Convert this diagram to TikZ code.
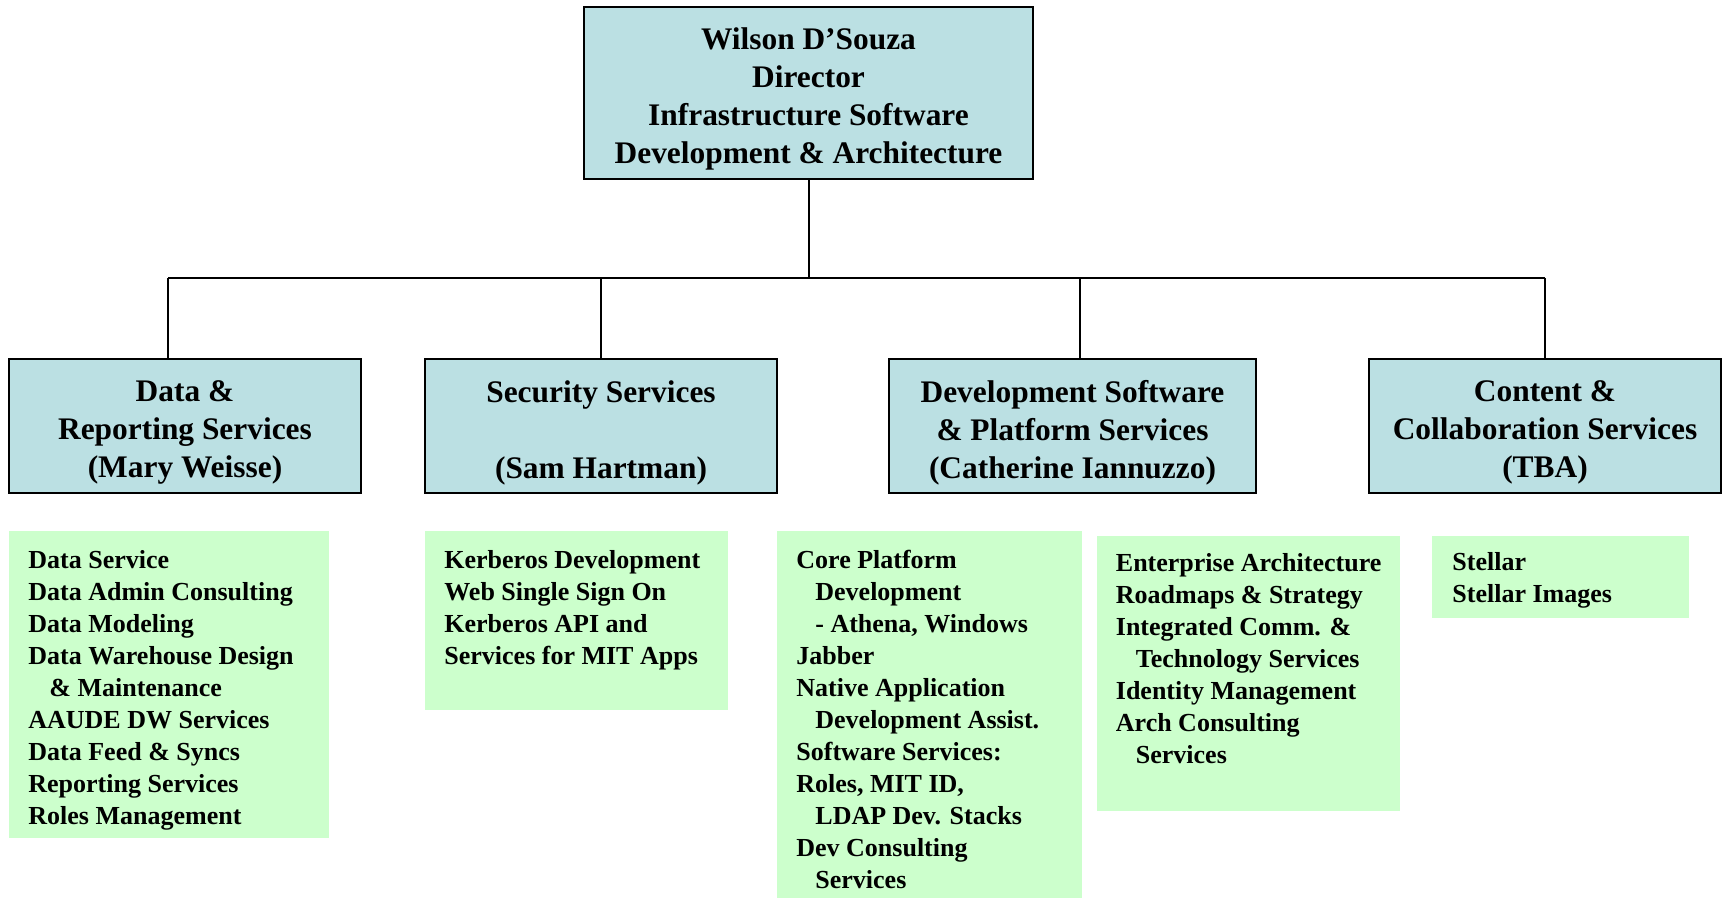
\documentclass[tikz,border=0pt]{standalone}
\usepackage{fontspec}
\setmainfont{Liberation Serif}
\definecolor{hblue}{RGB}{187,224,227}
\definecolor{lgreen}{RGB}{204,255,204}
\begin{document}
\begin{tikzpicture}[x=0.5pt,y=-0.5pt,
  hbox/.style={draw=black, line width=1pt, fill=hblue, inner sep=0pt},
  htext/.style={align=center, inner sep=0pt,
    font=\fontsize{15.7}{19}\selectfont\bfseries},
  gbox/.style={fill=lgreen, draw=none, inner sep=0pt},
  gtext/.style={anchor=base west, align=left, inner sep=0pt,
    font=\fontsize{13}{16}\selectfont\bfseries},
  conn/.style={line width=1pt, draw=black}]
\useasboundingbox (0,0) rectangle (1725,898);
% top
\node[hbox, minimum width=224.5pt, minimum height=86pt] (top) at (808.5,93) {};
\node[htext] (toptext) at ([yshift=-2.8pt]top.center)
  {Wilson D'Souza\\Director\\Infrastructure Software\\Development \& Architecture};
% level 2
\node[hbox, minimum width=176pt, minimum height=67pt] (b1) at (185,426) {};
\node[hbox, minimum width=176pt, minimum height=67pt] (b2) at (601,426) {};
\node[hbox, minimum width=183.5pt, minimum height=67pt] (b3) at (1072.5,426) {};
\node[hbox, minimum width=176pt, minimum height=67pt] (b4) at (1545,426) {};
\node[htext] (l1) at ([yshift=-3.3pt]b1.center) {Data \&\\Reporting Services\\(Mary Weisse)};
\node[htext] (l2) at ([yshift=-3.3pt]b2.center) {Security Services\\\mbox{}\\(Sam Hartman)};
\node[htext] (l3) at ([yshift=-3.3pt]b3.center) {Development Software\\\& Platform Services\\(Catherine Iannuzzo)};
\node[htext] (l4) at ([yshift=-3.3pt]b4.center) {Content \&\\Collaboration Services\\(TBA)};
% connectors
\coordinate (bar) at (808.5,278);
\coordinate (j1) at (168,278);
\coordinate (j2) at (601,278);
\coordinate (j3) at (1080,278);
\coordinate (j4) at (1545,278);
\draw[conn] (top.south) -- (top.south |- bar);
\draw[conn] (j1) -- (j4);
\draw[conn] (j1) -- (j1 |- b1.north);
\draw[conn] (j2) -- (j2 |- b2.north);
\draw[conn] (j3) -- (j3 |- b3.north);
\draw[conn] (j4) -- (j4 |- b4.north);
% green boxes
\node[gbox, minimum width=160pt, minimum height=153.5pt] (g1) at (169,684.5) {};
\node[gbox, minimum width=151.5pt, minimum height=89.5pt] (g2) at (576.5,620.5) {};
\node[gbox, minimum width=152.5pt, minimum height=183.5pt] (g3) at (929.5,714.5) {};
\node[gbox, minimum width=151.5pt, minimum height=137.5pt] (g4) at (1248.5,673.5) {};
\node[gbox, minimum width=128.5pt, minimum height=41pt] (g5) at (1560.5,577) {};
% green texts (anchor at baseline of last line)
\node[gtext] (t1) at (28,824) {Data Service\\Data Admin Consulting\\Data Modeling\\Data Warehouse Design\\\hspace*{10.5pt}\& Maintenance\\AAUDE DW Services\\Data Feed \& Syncs\\Reporting Services\\Roles Management};
\node[gtext] (t2) at (444,664) {Kerberos Development\\Web Single Sign On\\Kerberos API and\\Services for MIT Apps};
\node[gtext] (t3) at (796,888) {Core Platform\\\hspace*{9.5pt}Development\\\hspace*{9.5pt}- Athena, Windows\\Jabber\\Native Application\\\hspace*{9.5pt}Development Assist.\\Software Services:\\Roles, MIT ID,\\\hspace*{9.5pt}LDAP Dev. Stacks\\Dev Consulting\\\hspace*{9.5pt}Services};
\node[gtext] (t4) at (1115.5,763) {Enterprise Architecture\\Roadmaps \& Strategy\\Integrated Comm. \&\\\hspace*{10pt}Technology Services\\Identity Management\\Arch Consulting\\\hspace*{10pt}Services};
\node[gtext] (t5) at (1452,603) {Stellar\\Stellar Images};
\end{tikzpicture}
\end{document}
